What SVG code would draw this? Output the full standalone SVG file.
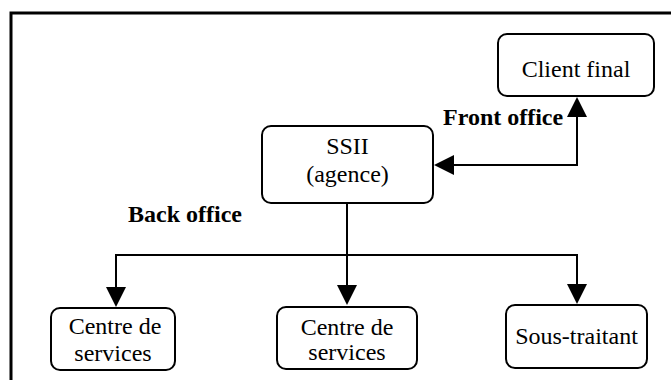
<svg xmlns="http://www.w3.org/2000/svg" width="671" height="380" viewBox="0 0 671 380">
<style>
.frame{fill:none;stroke:#000;stroke-width:3}
.box{fill:#fff;stroke:#000;stroke-width:2}
.t{font-family:"Liberation Serif","Times New Roman",serif;font-size:24px;fill:#000;text-anchor:middle}
.lbl{font-family:"Liberation Serif","Times New Roman",serif;font-size:24px;font-weight:bold;fill:#000}
.conn{fill:none;stroke:#000;stroke-width:2}
</style>
<defs>
<marker id="arr" markerUnits="userSpaceOnUse" markerWidth="20" markerHeight="20" refX="17" refY="10" orient="auto-start-reverse">
<path d="M0,0 L20,10 L0,20 z" fill="#000"/>
</marker>
</defs>
<rect class="frame" x="11" y="13" width="700" height="400"/>
<g id="connectors">
<path class="conn" d="M437,165 H577 V100" marker-start="url(#arr)" marker-end="url(#arr)"/>
<path class="conn" d="M347,203 V302" marker-end="url(#arr)"/>
<path class="conn" d="M347,255 H116 V304" marker-end="url(#arr)"/>
<path class="conn" d="M347,255 H577 V301" marker-end="url(#arr)"/>
</g>
<g id="labels">
<text class="lbl" x="443" y="125">Front office</text>
<text class="lbl" x="128" y="222">Back office</text>
</g>
<g id="client-final">
<rect class="box" x="498" y="34" width="156" height="62" rx="9"/>
<text class="t" x="576" y="77">Client final</text>
</g>
<g id="ssii">
<rect class="box" x="262" y="126" width="171" height="77" rx="9"/>
<text class="t" x="347.5" y="154">SSII</text>
<text class="t" x="347.5" y="182">(agence)</text>
</g>
<g id="centre-services-1">
<rect class="box" x="51" y="308" width="124" height="62" rx="9"/>
<text class="t" x="115" y="334">Centre de</text>
<text class="t" x="113" y="361">services</text>
</g>
<g id="centre-services-2">
<rect class="box" x="277" y="307" width="140" height="62" rx="9"/>
<text class="t" x="347" y="335">Centre de</text>
<text class="t" x="347" y="360">services</text>
</g>
<g id="sous-traitant">
<rect class="box" x="506" y="305" width="141" height="63" rx="9"/>
<text class="t" x="576.5" y="344">Sous-traitant</text>
</g>
</svg>
